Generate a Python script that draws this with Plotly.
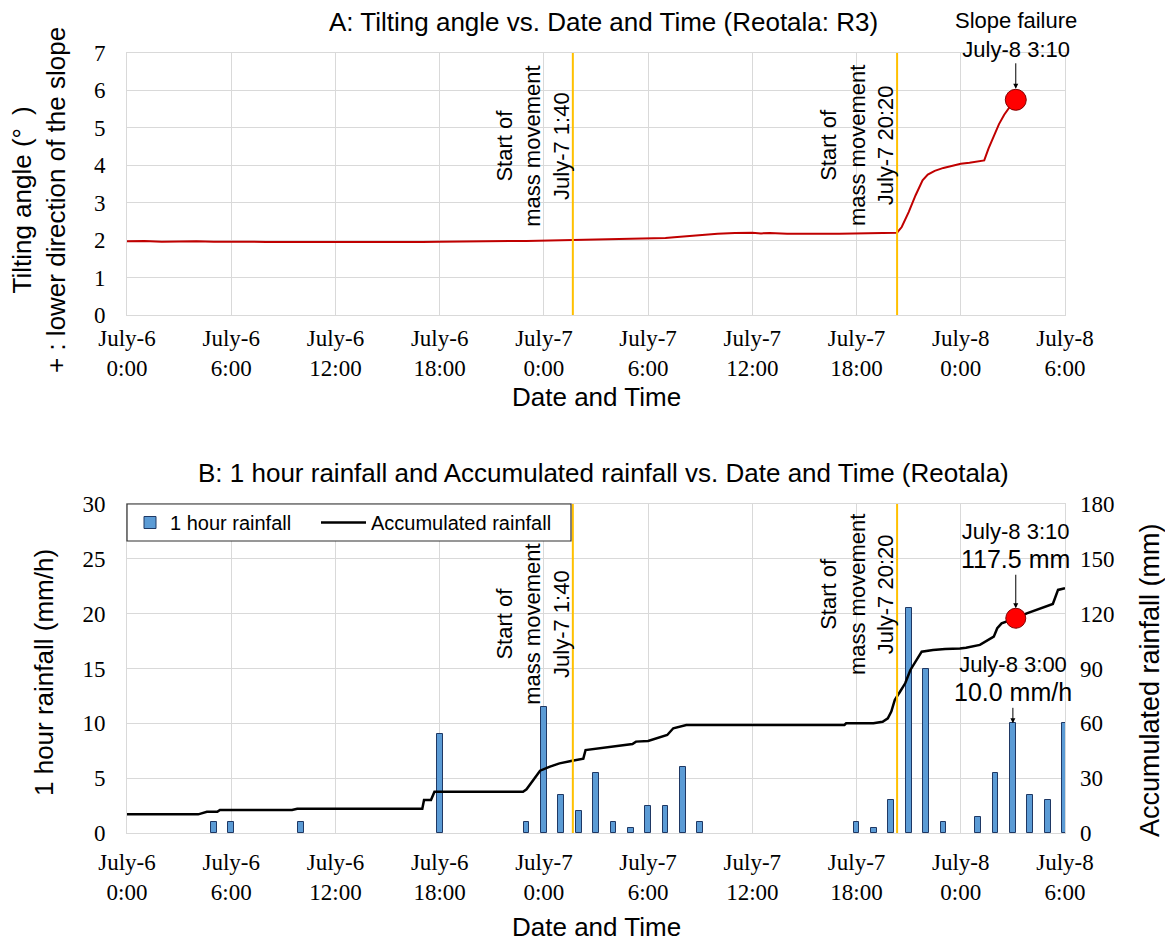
import plotly.graph_objects as go

# Time axis: hours counted from July-6 0:00
tick_hours = [0, 6, 12, 18, 24, 30, 36, 42, 48, 54]
tick_labels = ["July-6<br>0:00", "July-6<br>6:00", "July-6<br>12:00", "July-6<br>18:00",
               "July-7<br>0:00", "July-7<br>6:00", "July-7<br>12:00", "July-7<br>18:00",
               "July-8<br>0:00", "July-8<br>6:00"]

# Tilting angle at R3 (degrees, + : lower direction of the slope)
tilt_hours = [0, 1, 2, 3, 4, 5, 6, 7, 8, 9, 10, 11, 12, 13, 14, 15, 16, 17, 18, 19, 20, 21, 22, 23, 24, 25,
              25.67, 26.5, 27.5, 28.5, 29.5, 30.5,
              31, 31.5, 32, 32.5, 33, 33.5, 34,
              35, 35.5, 36, 36.5, 37,
              38, 39, 40, 41, 42, 43, 44,
              44.33, 44.6, 45.0, 45.4, 45.8, 46.1, 46.5, 47.0, 47.5, 48.0,
              48.5, 49.0, 49.35, 49.6, 49.9, 50.2, 50.5, 50.8, 51.0, 51.17]
tilt_deg = [1.97, 1.98, 1.96, 1.97, 1.97, 1.96, 1.97, 1.96, 1.95, 1.95, 1.95, 1.95, 1.95, 1.93, 1.93, 1.93,
            1.94, 1.95, 1.96, 1.97, 1.96, 1.97, 1.98, 1.98, 1.99, 2.00,
            2.00, 2.01, 2.02, 2.02, 2.03, 2.04,
            2.06, 2.08, 2.10, 2.11, 2.13, 2.15, 2.17,
            2.19, 2.20, 2.20, 2.18, 2.19,
            2.17, 2.18, 2.17, 2.17, 2.18, 2.18, 2.19,
            2.20, 2.35, 2.75, 3.20, 3.60, 3.75, 3.85, 3.93, 3.99, 4.04,
            4.07, 4.10, 4.13, 4.45, 4.80, 5.10, 5.35, 5.55, 5.68, 5.75]

# Hourly rainfall at Reotala (mm/h)
rain_hours = [5, 6, 10, 18, 23, 24, 25, 26, 27, 28, 29, 30, 31, 32, 33,
              42, 43, 44, 45, 46, 47, 49, 50, 51, 52, 53, 54]
rain_mm = [1.0, 1.0, 1.0, 9.0, 1.0, 11.5, 3.5, 2.0, 5.5, 1.0, 0.5, 2.5, 2.5, 6.0, 1.0,
           1.0, 0.5, 3.0, 20.5, 15.0, 1.0, 1.5, 5.5, 10.0, 3.5, 3.0, 10.0]

# Accumulated rainfall (mm)
acc_hours = [0, 4.1, 4.6, 5.2, 5.35, 9.5, 9.8, 17.0, 17.1, 17.5, 17.7, 22.8, 23.0, 23.4, 23.78,
             24.35, 24.9, 25.56, 26.27, 26.4, 27.2, 29.1, 29.3, 30.0, 31.1, 31.45, 32.2,
             41.3, 41.4, 42.97, 43.5, 43.8, 44.0, 44.2, 44.5, 44.8, 45.1, 45.45, 45.75, 46.4,
             47.1, 47.95, 48.3, 49.1, 49.4, 49.9, 50.1, 50.35, 51.17, 51.8, 53.3, 53.6, 54.0]
acc_mm = [10.2, 10.2, 11.6, 11.6, 12.6, 12.6, 13.3, 13.3, 18.0, 18.0, 22.6, 22.6, 23.9, 29.4, 34.1,
          36.3, 38.1, 39.4, 40.7, 45.4, 46.3, 48.7, 50.0, 50.3, 53.6, 57.3, 59.1,
          59.1, 60.0, 60.0, 60.9, 62.7, 66.4, 72.8, 77.3, 81.9, 89.2, 94.6, 99.2, 100.1,
          100.7, 101.0, 101.4, 102.9, 104.7, 107.4, 112.0, 114.7, 117.5, 120.2, 125.3, 133.0, 133.9]

# Events
movement_hours = [25 + 40 / 60, 44 + 20 / 60]
movement_labels = ["July-7 1:40", "July-7 20:20"]
failure_hour = 51 + 10 / 60
failure_label = "July-8 3:10"
failure_acc_mm = 117.5
peak_hour = 51
peak_label = "July-8 3:00"

SANS = "Liberation Sans, Arial, sans-serif"
SERIF = "Liberation Serif, Times New Roman, serif"
GRID = "#D9D9D9"
ORANGE = "#FFC000"

W, H = 1165, 941
ML, MR, MT, MB = 127, 100, 53, 108
PW, PH = W - ML - MR, H - MT - MB


def px_x(px):
    return (px - ML) / PW


def px_y(py):
    return (H - MB - py) / PH


fig = go.Figure()

fig.add_trace(go.Scatter(x=tilt_hours, y=tilt_deg, mode="lines", xaxis="x", yaxis="y",
                         line=dict(color="#C00000", width=2), showlegend=False))
fig.add_trace(go.Scatter(x=[failure_hour], y=[tilt_deg[-1]], mode="markers", xaxis="x", yaxis="y",
                         marker=dict(size=21, color="#FF0000", line=dict(color="#7F0000", width=1)),
                         showlegend=False))

fig.add_trace(go.Bar(x=rain_hours, y=rain_mm, width=0.33, xaxis="x2", yaxis="y2",
                     name="1 hour rainfall", legend="legend",
                     marker=dict(color="#5B9BD5", line=dict(color="#1F3864", width=1))))
fig.add_trace(go.Scatter(x=acc_hours, y=acc_mm, mode="lines", xaxis="x2", yaxis="y3",
                         name="Accumulated rainfall", legend="legend2",
                         line=dict(color="black", width=2.5)))
fig.add_trace(go.Scatter(x=[failure_hour], y=[failure_acc_mm], mode="markers", xaxis="x2", yaxis="y3",
                         marker=dict(size=20, color="#FF0000", line=dict(color="#7F0000", width=1)),
                         showlegend=False))

xcommon = dict(range=[0, 54], tickmode="array", tickvals=tick_hours, ticktext=tick_labels,
               showgrid=True, gridcolor=GRID, gridwidth=1, zeroline=False,
               showline=True, linecolor=GRID, linewidth=1, mirror=True, ticks="",
               tickfont=dict(family=SERIF, size=23, color="black"))
ycommon = dict(showgrid=True, gridcolor=GRID, gridwidth=1, zeroline=False,
               showline=True, linecolor=GRID, linewidth=1, mirror=True, ticks="",
               ticklabelstandoff=16,
               tickfont=dict(family=SERIF, size=23, color="black"))

top_lo = px_y(315)
bot_hi = px_y(504)

shapes = []
for h in movement_hours:
    shapes.append(dict(type="line", xref="x", yref="y domain", x0=h, x1=h, y0=0, y1=1,
                       line=dict(color=ORANGE, width=2)))
    shapes.append(dict(type="line", xref="x2", yref="y2 domain", x0=h, x1=h, y0=0, y1=1,
                       line=dict(color=ORANGE, width=2)))
# Legend frame
shapes.append(dict(type="rect", xref="paper", yref="paper", x0=px_x(127), x1=px_x(571),
                   y0=px_y(541), y1=px_y(504), fillcolor="white",
                   line=dict(color="#303030", width=1.2), layer="above"))

annotations = []


def text_ann(text, x, y, size, angle=0, xref="paper", yref="paper"):
    annotations.append(dict(text=text, x=x, y=y, xref=xref, yref=yref, showarrow=False,
                            textangle=angle, xanchor="center", yanchor="middle", align="center",
                            font=dict(family=SANS, size=size, color="black")))


text_ann("A: Tilting angle vs. Date and Time (Reotala: R3)", px_x(603), px_y(22), 26)
text_ann("B: 1 hour rainfall and Accumulated rainfall vs. Date and Time (Reotala)",
         px_x(603), px_y(473), 26)
text_ann("Date and Time", px_x(596), px_y(397), 26)
text_ann("Date and Time", px_x(596), px_y(927), 26)
text_ann("Tilting angle (°\u2002)<br>+ : lower direction of the slope", px_x(39), px_y(200), 26, -90)
text_ann("1 hour rainfall (mm/h)", px_x(44), px_y(673), 26, -90)
text_ann("Accumulated rainfall (mm)", px_x(1150), px_y(680), 27, -90)

# Vertical labels beside the start-of-movement lines
label_shift = 40 * 54 / PW
for h, lab in zip(movement_hours, movement_labels):
    text_ann("Start of<br>mass movement<br>" + lab, h - label_shift, px_y(146), 22, -90, xref="x")
text_ann("Start of<br>mass movement<br>" + movement_labels[0], movement_hours[0] - label_shift,
         px_y(624), 22, -90, xref="x")
text_ann("Start of<br>mass movement<br>" + movement_labels[1], movement_hours[1] - label_shift,
         px_y(595), 22, -90, xref="x")

arrow = dict(showarrow=True, arrowhead=2, arrowsize=1, arrowwidth=1, arrowcolor="black", ax=0,
             xanchor="center", yanchor="middle", align="center")
annotations.append(dict(arrow, text="Slope failure<br>" + failure_label, x=failure_hour, y=tilt_deg[-1],
                        xref="x", yref="y", ay=-65, standoff=11,
                        font=dict(family=SANS, size=22, color="black")))
annotations.append(dict(arrow, text=f"{failure_label}<br><span style='font-size:25px'>{failure_acc_mm:.1f} mm</span>",
                        x=failure_hour, y=failure_acc_mm, xref="x2", yref="y3", ay=-72, standoff=10,
                        font=dict(family=SANS, size=22, color="black")))
peak_val = rain_mm[rain_hours.index(peak_hour)]
annotations.append(dict(arrow, text=f"{peak_label}<br><span style='font-size:25px'>{peak_val:.1f} mm/h</span>",
                        x=peak_hour, y=peak_val, xref="x2", yref="y2", ay=-44, standoff=0,
                        font=dict(family=SANS, size=22, color="black")))

legend_common = dict(yanchor="middle", xanchor="left", orientation="h", bgcolor="rgba(0,0,0,0)",
                     borderwidth=0, font=dict(family=SANS, size=20, color="black"))

fig.update_layout(
    width=W, height=H,
    margin=dict(l=ML, r=MR, t=MT, b=MB),
    paper_bgcolor="white", plot_bgcolor="white",
    xaxis=dict(xcommon, domain=[0, 1], anchor="y", ticklabelstandoff=2),
    yaxis=dict(ycommon, domain=[top_lo, 1], range=[0, 7], dtick=1, anchor="x"),
    xaxis2=dict(xcommon, domain=[0, 1], anchor="y2", ticklabelstandoff=8),
    yaxis2=dict(ycommon, domain=[0, bot_hi], range=[0, 30], dtick=5, anchor="x2"),
    yaxis3=dict(overlaying="y2", side="right", anchor="x2", range=[0, 180], dtick=30,
                showgrid=False, zeroline=False, showline=False, ticks="", ticklabelstandoff=14,
                tickfont=dict(family=SERIF, size=23, color="black")),
    shapes=shapes,
    annotations=annotations,
    showlegend=True,
    legend=dict(legend_common, x=px_x(130), y=px_y(522.5)),
    legend2=dict(legend_common, x=px_x(316), y=px_y(522.5), itemwidth=45),
    bargap=0,
)

fig.write_html("out.html")
